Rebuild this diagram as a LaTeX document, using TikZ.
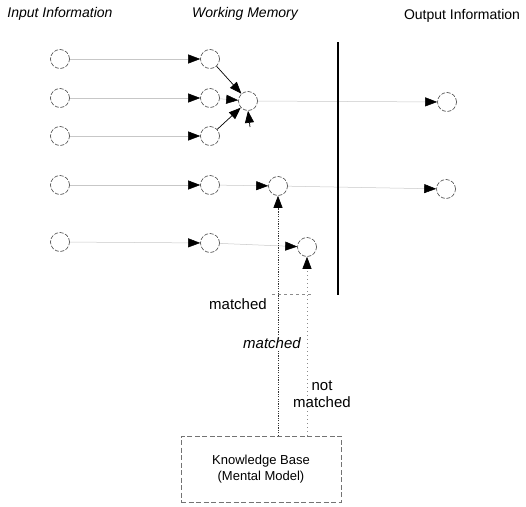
\documentclass[tikz,border=0pt]{standalone}
\usepackage{fontspec}
\setmainfont{Liberation Sans}
\usetikzlibrary{arrows.meta}

\begin{document}
\begin{tikzpicture}[x=1pt,y=-1pt,
  unit/.style={circle, minimum size=19pt, inner sep=0pt,
    draw=black!75, line width=0.6pt, dash pattern=on 4pt off 1.6pt},
  tip/.style={-{Triangle[length=12pt,width=9pt,color=black]}},
  flow/.style={tip, draw=black!22, line width=0.5pt},
  link/.style={tip, draw=black, line width=0.7pt},
  probe/.style={tip, draw=black!80, line width=0.7pt, dash pattern=on 1.2pt off 1.2pt},
  weakprobe/.style={tip, draw=black!45, line width=0.6pt, dash pattern=on 1pt off 3pt},
  heading/.style={font=\fontsize{14}{16}\selectfont},
  tag/.style={font=\fontsize{15}{17}\selectfont, inner sep=1pt},
  kbbox/.style={draw=black!55, line width=0.6pt, dash pattern=on 5pt off 2.5pt,
    minimum width=160pt, minimum height=66pt, align=center,
    font=\fontsize{13}{16}\selectfont}]

\useasboundingbox (0,0) rectangle (526,506);

% column headings
\node[heading, font=\fontsize{14}{16}\selectfont\itshape] (hin) at (60,14) {Input Information};
\node[heading, font=\fontsize{14}{16}\selectfont\itshape] (hwm) at (245,14) {Working Memory};
\node[heading] (hout) at (462,16) {Output Information};

% input units
\foreach \i/\y in {1/59,2/98,3/136,4/185,5/242}
  \node[unit] (in\i) at (60,\y) {};

% working memory units
\foreach \i/\y in {1/59,2/98,3/136,4/185,5/243}
  \node[unit] (wm\i) at (210,\y) {};

\node[unit] (ctr) at (248,101) {};
\node[unit] (ma) at (278,186) {};
\node[unit] (mb) at (307,247) {};

% output units
\node[unit] (out1) at (447,102) {};
\node[unit] (out2) at (446,189) {};

% barrier between memory and output
\coordinate (bt) at (338,42);
\coordinate (bb) at (338,295);

% input to working memory
\foreach \i in {1,...,5}
  \draw[flow] (in\i) -- (wm\i);

% combination inside working memory
\draw[link] (wm1) -- (ctr);
\draw[link] (wm3) -- (ctr);
\draw[flow] (wm2) -- (ctr);
\coordinate (cin) at (250,127);
\draw[link] (cin) -- (ctr.south);
\draw[flow] (wm4) -- (ma);
\draw[flow] (wm5) -- (mb);

% working memory to output
\draw[flow] (ctr) -- (out1);
\draw[flow] (ma) -- (out2);

\draw[line width=1.2pt] (bt) -- (bb);

% knowledge base and its probes
\node[kbbox] (kb) at (261,469) {Knowledge Base\\(Mental Model)};

\draw[probe] (kb.north -| ma.south) -- (ma.south);
\draw[weakprobe] (kb.north -| mb.south) -- (mb.south);

\coordinate (hl) at (272,294);
\coordinate (hr) at (312,294);
\draw[draw=black!45, line width=0.6pt, dash pattern=on 3pt off 3pt] (hl) -- (hr);

\node[tag] (l1) at (238,304) {matched};
\node[tag, fill=white, font=\fontsize{15}{17}\selectfont\itshape] (l2) at (272,343) {matched};
\node[tag, align=center] (l3) at (322,394) {not\\matched};

\end{tikzpicture}
\end{document}
